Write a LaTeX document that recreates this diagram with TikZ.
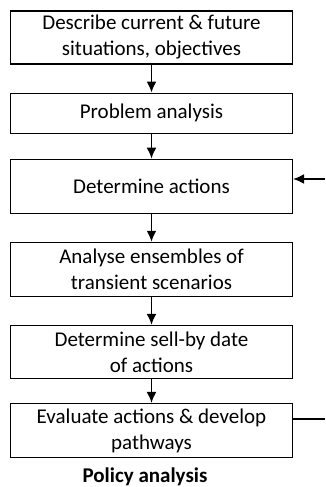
\documentclass[tikz,border=0pt]{standalone}
\usepackage{fontspec}
\setmainfont{Carlito}
\usetikzlibrary{positioning,arrows.meta}
\tikzset{
  stepbox/.style={draw, line width=1.1pt, minimum width=282pt, minimum height=54pt,
    align=center, inner sep=2pt, font=\fontsize{21}{26}\selectfont},
  flow/.style={-{Latex[length=11pt,width=10pt]}, line width=1.8pt}
}

\begin{document}
\begin{tikzpicture}[x=1pt,y=1pt]
\useasboundingbox (0,0) rectangle (325,-487);
% Steps of the analysis
\node[stepbox, minimum height=53pt, text depth=4pt] (describe) at (151.5,-37.5) {Describe current \& future\\situations, objectives};
\node[stepbox, minimum height=40pt, below=28pt of describe] (problem) {Problem analysis};
\node[stepbox, below=25pt of problem] (actions) {Determine actions};
\node[stepbox, below=28pt of actions] (ensembles) {Analyse ensembles of\\transient scenarios};
\node[stepbox, minimum height=53pt, below=28pt of ensembles] (sellby) {Determine sell-by date\\of actions};
\node[stepbox, below=24pt of sellby] (evaluate) {Evaluate actions \& develop\\pathways};
% Arrows between the steps
\draw[flow] (describe) -- (problem);
\draw[flow] (problem) -- (actions);
\draw[flow] (actions) -- (ensembles);
\draw[flow] (ensembles) -- (sellby);
\draw[flow] (sellby) -- (evaluate);
% Feedback ends at the right edge
\coordinate (feedin) at (325,-179);
\coordinate (feedout) at (325,-419);
\draw[flow] (feedin) -- (actions.east |- feedin);
\draw[line width=1.8pt] (evaluate.east |- feedout) -- (feedout);
% Caption
\node[anchor=base, font=\bfseries\fontsize{21}{25}\selectfont] (caption) at (145,-482) {Policy analysis};
\end{tikzpicture}
\end{document}
